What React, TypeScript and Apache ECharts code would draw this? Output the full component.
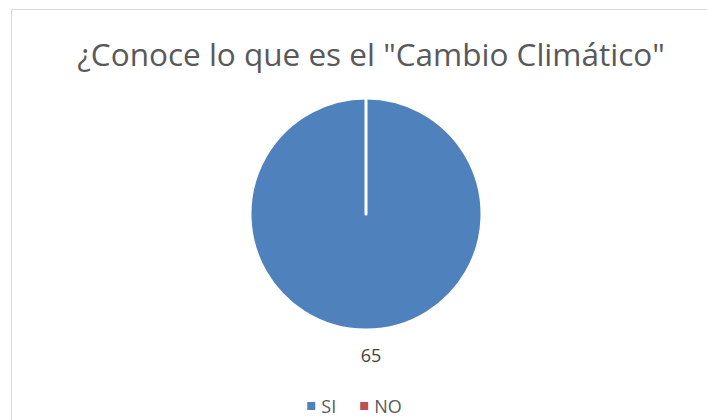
import React, { useEffect, useRef } from "react";
import * as echarts from "echarts";

const titleText = '¿Conoce lo que es el "Cambio Climático"';
const categories = ["SI", "NO"];
const values = [65, 0];
const colors = ["#4F81BD", "#C0504D"];

export default function App() {
  const ref = useRef<HTMLDivElement>(null);
  useEffect(() => {
    if (!ref.current) return;
    const chart = echarts.init(ref.current, null, { renderer: "svg" });
    chart.setOption({
      animation: false,
      title: {
        text: titleText,
        left: 366,
        textAlign: "center",
        top: 32,
        textStyle: {
          fontFamily: "Open Sans",
          fontSize: 31.5,
          fontWeight: "normal",
          color: "#595959",
        },
      },
      legend: {
        bottom: 0,
        left: "center",
        itemWidth: 10,
        itemHeight: 10,
        itemGap: 22,
        icon: "rect",
        data: categories,
        textStyle: { fontFamily: "Open Sans", fontSize: 18, color: "#595959" },
      },
      series: [
        {
          type: "pie",
          center: [366, 214],
          radius: [0, 116],
          startAngle: 90,
          clockwise: true,
          stillShowZeroSum: true,
          itemStyle: { borderColor: "#ffffff", borderWidth: 3 },
          label: {
            show: true,
            position: "outside",
            formatter: (p: any) => (p.value > 0 ? String(p.value) : ""),
            fontFamily: "Open Sans",
            fontSize: 18,
            color: "#404040",
          },
          labelLine: { show: false, length: 25, length2: 0 },
          labelLayout: { align: "center" },
          emphasis: { disabled: true },
          data: categories.map((c, i) => ({
            name: c,
            value: values[i],
            itemStyle: { color: colors[i] },
          })),
        },
      ],
    });
    return () => chart.dispose();
  }, []);
  return (
    <div style={{ position: "fixed", left: 0, top: 0, width: 707, height: 420, overflow: "hidden", background: "#fff" }}>
      <div
        style={{
          position: "absolute",
          left: 11,
          top: 9,
          width: 740,
          height: 460,
          border: "1.5px solid #d9d9d9",
        }}
      />
      <div ref={ref} style={{ position: "absolute", left: 0, top: 0, width: 707, height: 420 }} />
    </div>
  );
}
